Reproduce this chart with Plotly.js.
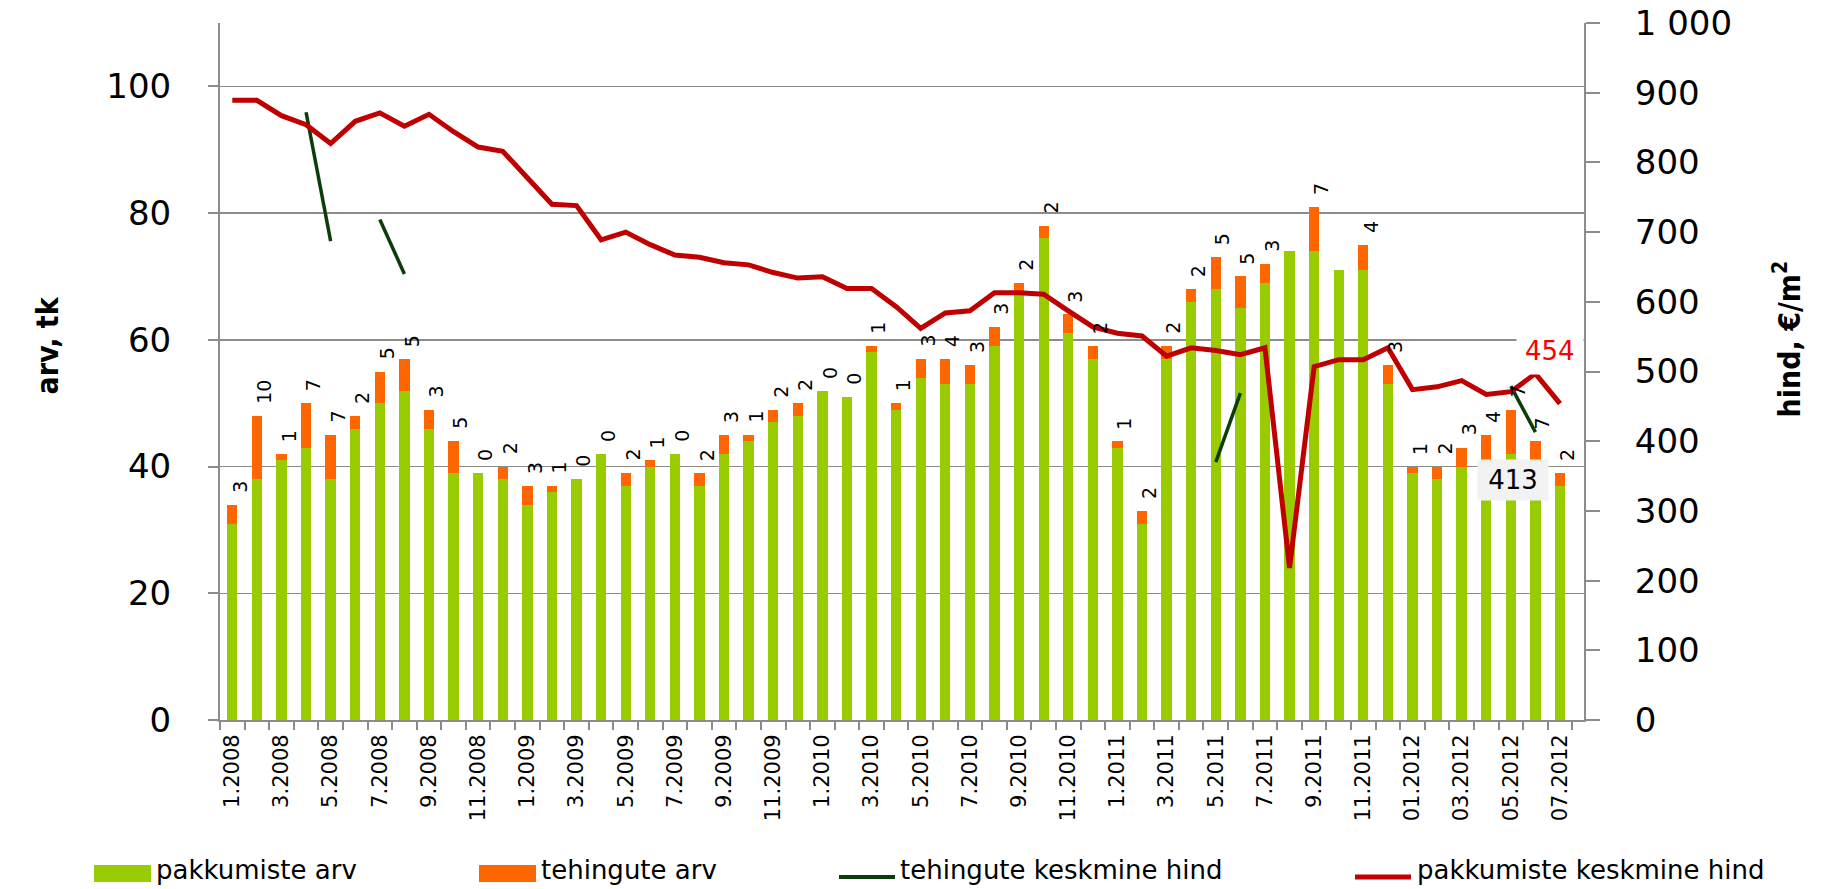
<!DOCTYPE html>
<html>
<head>
<meta charset="utf-8">
<script src="https://cdn.plot.ly/plotly-3.0.1.min.js"></script>
<style>html,body{margin:0;padding:0;background:#fff;}#chart{width:1847px;height:889px;}</style>
</head>
<body>
<div id="chart"></div>
<script>
// ---- DATA ----
const months = [
  "1.2008","2.2008","3.2008","4.2008","5.2008","6.2008","7.2008","8.2008","9.2008","10.2008","11.2008","12.2008",
  "1.2009","2.2009","3.2009","4.2009","5.2009","6.2009","7.2009","8.2009","9.2009","10.2009","11.2009","12.2009",
  "1.2010","2.2010","3.2010","4.2010","5.2010","6.2010","7.2010","8.2010","9.2010","10.2010","11.2010","12.2010",
  "1.2011","2.2011","3.2011","4.2011","5.2011","6.2011","7.2011","8.2011","9.2011","10.2011","11.2011","12.2011",
  "01.2012","02.2012","03.2012","04.2012","05.2012","06.2012","07.2012"
];
// pakkumiste arv (offers count)
const pakkumisteArv = [
  31,38,41,43,38,46,50,52,46,39,39,38,
  34,36,38,42,37,40,42,37,42,44,47,48,
  52,51,58,49,54,53,53,59,67,76,61,57,
  43,31,57,66,68,65,69,74,74,71,71,53,
  39,38,40,41,42,37,37
];
// tehingute arv (transactions count)
const tehinguteArv = [
  3,10,1,7,7,2,5,5,3,5,0,2,
  3,1,0,0,2,1,0,2,3,1,2,2,
  0,0,1,1,3,4,3,3,2,2,3,2,
  1,2,2,2,5,5,3,null,7,null,4,3,
  1,2,3,4,7,7,2
];
// tehingute keskmine hind (average transaction price, €/m2)
const tehinguteHind = [
  null,null,null,872,687,null,718,640,null,null,null,null,
  null,null,null,null,null,null,null,null,null,null,null,null,
  null,null,null,null,null,null,null,null,null,null,null,null,
  null,null,null,null,370,469,null,null,null,null,null,null,
  null,null,null,null,479,413,null
];
// pakkumiste keskmine hind (average offer price, €/m2)
const pakkumisteHind = [
  889,889,867,854,827,859,871,852,869,844,822,816,
  778,740,738,689,700,682,667,664,656,653,642,634,
  636,619,619,593,562,584,587,613,613,611,587,564,
  555,551,522,534,530,524,534,218,507,517,517,534,
  474,478,487,467,471,497,454
];
const seriesNames = ["pakkumiste arv","tehingute arv","tehingute keskmine hind","pakkumiste keskmine hind"];
const colors = {green:"#99CC00", orange:"#FF6600", dark:"#0B3D0B", red:"#C00000"};

// ---- geometry helpers (plot area in px) ----
const PL = 220, PT = 23, PW = 1364, PH = 697;
const fx = px => (px - PL) / PW;
const fy = py => (PT + PH - py) / PH;

const FONT = "DejaVu Sans, Verdana, sans-serif";
const grid = "#8C8C8C";

const traces = [
  {type:"bar", name:seriesNames[0], x:months, y:pakkumisteArv, marker:{color:colors.green}},
  {type:"bar", name:seriesNames[1], x:months, y:tehinguteArv, marker:{color:colors.orange}},
  {type:"scatter", mode:"lines", name:seriesNames[2], x:months, y:tehinguteHind, yaxis:"y2",
   line:{color:colors.dark, width:3.5}, connectgaps:false},
  {type:"scatter", mode:"lines", name:seriesNames[3], x:months, y:pakkumisteHind, yaxis:"y2",
   line:{color:colors.red, width:5}}
];

const annotations = [];
// data labels: transaction counts above stacked bars (x given as category index)
months.forEach((m, i) => {
  if (tehinguteArv[i] === null) return;
  annotations.push({
    x:i, y:pakkumisteArv[i] + tehinguteArv[i], xref:"x", yref:"y",
    text:String(tehinguteArv[i]), showarrow:false, textangle:-90,
    xanchor:"center", yanchor:"bottom", xshift:7, yshift:10,
    font:{family:FONT, size:19, color:"#000"}
  });
});
// last value labels
const lastT = 53, lastP = months.length - 1;
annotations.push({
  x:lastT, y:tehinguteHind[lastT], xref:"x", yref:"y2",
  text:String(tehinguteHind[lastT]), showarrow:false, xshift:-22, yshift:-48,
  width:60, height:30, bgcolor:"#F2F2F2", borderpad:5, font:{family:FONT, size:26, color:"#000"}
});
annotations.push({
  x:lastP, y:pakkumisteHind[lastP], xref:"x", yref:"y2",
  text:String(pakkumisteHind[lastP]), showarrow:false, xshift:-10, yshift:53,
  bgcolor:"#FFFFFF", borderpad:8, font:{family:FONT, size:26, color:"#FF0000"}
});
// axis titles
annotations.push({
  x:fx(27), y:fy(345), xref:"paper", yref:"paper", text:"<b>arv, tk</b>", showarrow:false,
  textangle:-90, font:{family:"DejaVu Sans Condensed, DejaVu Sans", size:30, color:"#000"}
});
annotations.push({
  x:fx(1809), y:fy(339), xref:"paper", yref:"paper", text:"<b>hind, €/m<sup>2</sup></b>", showarrow:false,
  textangle:-90, font:{family:"DejaVu Sans Condensed, DejaVu Sans", size:30, color:"#000"}
});

// custom legend
const shapes = [];
const legendItems = [
  {name:seriesNames[0], kind:"rect", color:colors.green, x0:94, x1:151, tx:155},
  {name:seriesNames[1], kind:"rect", color:colors.orange, x0:479, x1:536, tx:540},
  {name:seriesNames[2], kind:"line", color:colors.dark, x0:839, x1:895, tx:899, w:4},
  {name:seriesNames[3], kind:"line", color:colors.red, x0:1355, x1:1411, tx:1416, w:5}
];
legendItems.forEach(it => {
  if (it.kind === "rect") {
    shapes.push({type:"rect", xref:"paper", yref:"paper", x0:fx(it.x0), x1:fx(it.x1), y0:fy(882), y1:fy(865),
      fillcolor:it.color, line:{width:0}});
  } else {
    shapes.push({type:"line", xref:"paper", yref:"paper", x0:fx(it.x0), x1:fx(it.x1), y0:fy(877), y1:fy(877),
      line:{color:it.color, width:it.w}});
  }
  annotations.push({x:fx(it.tx), y:fy(870), xref:"paper", yref:"paper", text:it.name, showarrow:false,
    xanchor:"left", yanchor:"middle", borderpad:0, font:{family:FONT, size:26, color:"#000"}});
});

const layout = {
  width:1847, height:889,
  margin:{l:PL, r:1847 - PL - PW, t:PT, b:889 - PT - PH, pad:0},
  paper_bgcolor:"#fff", plot_bgcolor:"#fff",
  barmode:"stack", bargap:0.58,
  separators:", ",
  showlegend:false,
  xaxis:{
    type:"category", tickmode:"linear", tick0:0, dtick:1, ticklabelstep:2,
    tickson:"boundaries", ticks:"outside", ticklen:8, tickwidth:2, tickcolor:grid,
    showline:true, linecolor:grid, linewidth:2, showgrid:false, zeroline:false,
    tickangle:-90, tickfont:{family:FONT, size:21, color:"#000"}, ticklabelstandoff:4
  },
  yaxis:{
    range:[0,110], tickmode:"array", tickvals:[0,20,40,60,80,100],
    ticks:"outside", ticklen:10, tickwidth:2, tickcolor:grid,
    showline:true, linecolor:grid, linewidth:2,
    showgrid:true, gridcolor:grid, gridwidth:1.5, zeroline:false,
    tickfont:{family:FONT, size:34, color:"#000"}, ticklabelstandoff:30
  },
  yaxis2:{
    overlaying:"y", side:"right", range:[0,1000], tickmode:"linear", tick0:0, dtick:100,
    separatethousands:true,
    ticks:"outside", ticklen:14, tickwidth:2, tickcolor:grid,
    showline:true, linecolor:grid, linewidth:2,
    showgrid:false, zeroline:false,
    tickfont:{family:FONT, size:34, color:"#000"}, ticklabelstandoff:28
  },
  annotations:annotations,
  shapes:shapes
};

Plotly.newPlot("chart", traces, layout, {displayModeBar:false, staticPlot:true});
</script>
</body>
</html>
